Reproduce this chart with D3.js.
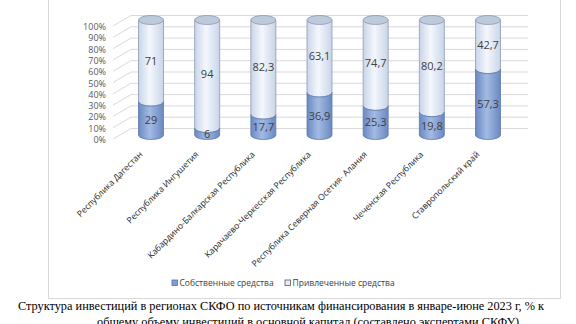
<!DOCTYPE html>
<html>
<head>
<meta charset="utf-8">
<script src="https://cdn.jsdelivr.net/npm/d3@7"></script>
<style>
  body { margin: 0; background: #fff; }
  svg { display: block; }
</style>
</head>
<body>
<div id="chart"></div>
<script>
var categories = ["Республика Дагестан", "Республика Ингушетия", "Кабардино-Балкарская Республика",
  "Карачаево-Черкесская Республика", "Республика Северная Осетия- Алания", "Чеченская Республика",
  "Ставропольский край"];
var own = [29, 6, 17.7, 36.9, 25.3, 19.8, 57.3];
var borrowed = [71, 94, 82.3, 63.1, 74.7, 80.2, 42.7];
var yTicks = [0, 10, 20, 30, 40, 50, 60, 70, 80, 90, 100];
var seriesNames = ["Собственные средства", "Привлеченные средства"];

var width = 576, height = 324;
var svg = d3.select("#chart").append("svg")
  .attr("width", width).attr("height", height);

var defs = svg.append("defs");
function grad(id, edge, mid) {
  var g = defs.append("linearGradient").attr("id", id)
    .attr("x1", "0%").attr("x2", "100%").attr("y1", "0%").attr("y2", "0%");
  g.append("stop").attr("offset", "0%").attr("stop-color", edge);
  g.append("stop").attr("offset", "45%").attr("stop-color", mid);
  g.append("stop").attr("offset", "100%").attr("stop-color", edge);
}
grad("gOwn", "#6a88c2", "#a3bbe3");
grad("gBor", "#c8d5ea", "#f4f7fc");

// chart frame
svg.append("rect").attr("x", 48.5).attr("y", -2).attr("width", 512).attr("height", 300.5)
  .attr("fill", "none").attr("stroke", "#d9d9d9");

var x = d3.scalePoint().domain(categories).range([151, 488]);
var y = d3.scaleLinear().domain([0, 100]).range([135, 20]);       // cylinders
var yFront = d3.scaleLinear().domain([0, 100]).range([140, 27]);  // axis labels
var yBack = d3.scaleLinear().domain([0, 100]).range([128, 15]);   // back wall

// grid
var grid = svg.append("g").attr("stroke", "#d9d9d9").attr("stroke-width", 1);
grid.selectAll("line.h").data(yTicks).enter().append("line").attr("class", "h")
  .attr("x1", 131).attr("x2", 528)
  .attr("y1", function(d){ return yBack(d) + 0.5; })
  .attr("y2", function(d){ return yBack(d) + 0.5; });
grid.selectAll("line.d").data(yTicks).enter().append("line").attr("class", "d")
  .attr("x1", 113).attr("x2", 131)
  .attr("y1", function(d){ return yFront(d) - 1; })
  .attr("y2", function(d){ return yBack(d) + 0.5; });

// y axis labels
svg.append("g").selectAll("text").data(yTicks).enter().append("text")
  .attr("x", 106).attr("y", function(d){ return yFront(d) + 3; })
  .attr("text-anchor", "end")
  .attr("font-family", "Open Sans, sans-serif").attr("font-size", 9)
  .attr("fill", "#595959")
  .text(function(d){ return d + "%"; });

var rx = 12.5, ry = 4.5;
function fmt(v) { return String(v).replace(".", ","); }

var bars = svg.append("g").selectAll("g").data(categories).enter().append("g");

bars.each(function(c, i) {
  var g = d3.select(this);
  var cx = x(c), x0 = cx - rx, x1 = cx + rx;
  var ySplit = y(own[i]), yTop = y(100), yBot = y(0);

  // borrowed segment (upper)
  g.append("path")
    .attr("d", "M" + x0 + "," + yTop + " L" + x0 + "," + ySplit +
      " A" + rx + "," + ry + " 0 0 0 " + x1 + "," + ySplit +
      " L" + x1 + "," + yTop + " Z")
    .attr("fill", "url(#gBor)").attr("stroke", "#8c9bb0").attr("stroke-width", 0.8);
  g.append("ellipse").attr("cx", cx).attr("cy", yTop).attr("rx", rx).attr("ry", ry)
    .attr("fill", "#bccadb").attr("stroke", "#8c9bb0").attr("stroke-width", 0.8);

  // own segment (lower)
  g.append("path")
    .attr("d", "M" + x0 + "," + ySplit +
      " A" + rx + "," + ry + " 0 0 0 " + x1 + "," + ySplit +
      " L" + x1 + "," + yBot +
      " A" + rx + "," + ry + " 0 0 1 " + x0 + "," + yBot + " Z")
    .attr("fill", "url(#gOwn)").attr("stroke", "#5d79ad").attr("stroke-width", 0.8);

  // value labels
  g.append("text").attr("x", cx).attr("y", (y(own[i]) + y(0)) / 2 + 6)
    .attr("text-anchor", "middle").attr("font-family", "Open Sans, sans-serif")
    .attr("font-size", 11).attr("fill", "#404040").text(fmt(own[i]));
  g.append("text").attr("x", cx).attr("y", (y(100) + y(own[i])) / 2 + 4)
    .attr("text-anchor", "middle").attr("font-family", "Open Sans, sans-serif")
    .attr("font-size", 11).attr("fill", "#404040").text(fmt(borrowed[i]));
});

// category labels
svg.append("g").selectAll("text").data(categories).enter().append("text")
  .attr("transform", function(d){ return "translate(" + (x(d) - 8) + ",155) rotate(-45)"; })
  .attr("text-anchor", "end")
  .attr("font-family", "Open Sans, sans-serif").attr("font-size", 8.6)
  .attr("fill", "#262626")
  .text(function(d){ return d; });

// legend
var legend = svg.append("g");
var legX = [172, 285];
var legFill = ["#7f9fd6", "#e6ecf6"];
var legStroke = ["#4f6fa6", "#595959"];
seriesNames.forEach(function(n, i) {
  legend.append("rect").attr("x", legX[i]).attr("y", 280).attr("width", 5.5).attr("height", 5.5)
    .attr("fill", legFill[i]).attr("stroke", legStroke[i]).attr("stroke-width", 0.8);
  legend.append("text").attr("x", legX[i] + 7.5).attr("y", 286)
    .attr("font-family", "Open Sans, sans-serif").attr("font-size", 8.5)
    .attr("fill", "#404040").text(n);
});

// caption
var cap = svg.append("g").attr("font-family", "Liberation Serif, serif").attr("font-size", 12.3).attr("fill", "#000");
cap.append("text").attr("x", 18).attr("y", 310)
  .text("Структура инвестиций  в регионах СКФО по источникам финансирования в январе-июне 2023 г, % к");
cap.append("text").attr("x", 97).attr("y", 326)
  .text("общему объему инвестиций в основной капитал (составлено экспертами СКФУ)");
</script>
</body>
</html>
